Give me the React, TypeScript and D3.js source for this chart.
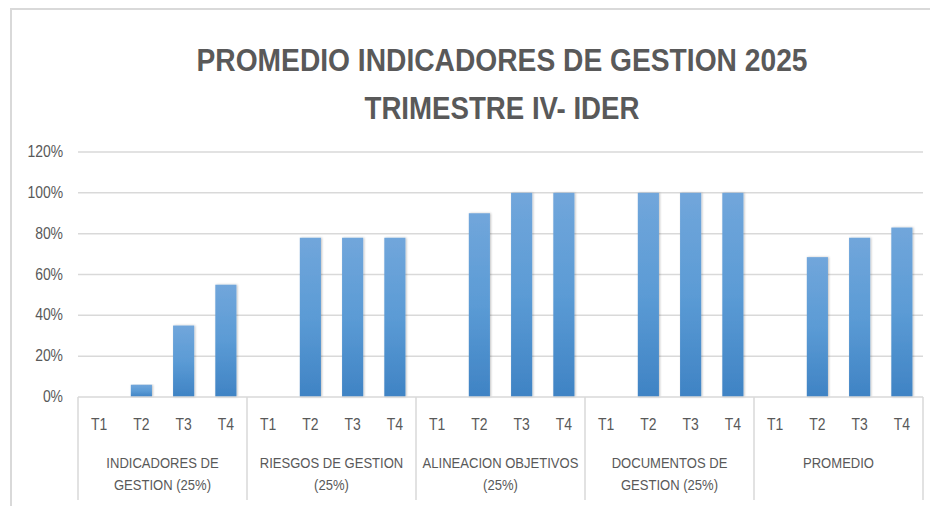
import React from 'react';
import * as d3 from 'd3';

const quarters = ['T1', 'T2', 'T3', 'T4'];
const groupLabels = [
  ['INDICADORES DE', 'GESTION (25%)'],
  ['RIESGOS DE GESTION', '(25%)'],
  ['ALINEACION OBJETIVOS', '(25%)'],
  ['DOCUMENTOS DE', 'GESTION (25%)'],
  ['PROMEDIO'],
];
const indicadores = [0, 0.06, 0.35, 0.55];
const riesgos = [0, 0.78, 0.78, 0.78];
const alineacion = [0, 0.9, 1, 1];
const documentos = [0, 1, 1, 1];
const promedio = [0, 0.685, 0.78, 0.83];
const yTicks = [0, 0.2, 0.4, 0.6, 0.8, 1, 1.2];

const seriesByGroup = [indicadores, riesgos, alineacion, documentos, promedio];

const W = 930;
const H = 506;
const left = 78;
const right = 923;
const top = 152;
const bottom = 397;
const grey = '#595959';
const lineCol = '#d9d9d9';
const font = "'Liberation Sans', Arial, sans-serif";
// the source font is condensed, so squeeze text horizontally
const squeeze = 0.87;

export default function App() {
  const x0 = d3.scaleBand<number>()
    .domain(d3.range(groupLabels.length))
    .range([left, right])
    .padding(0);
  const x1 = d3.scaleBand<string>()
    .domain(quarters)
    .range([0, x0.bandwidth()])
    .paddingInner(0.5)
    .paddingOuter(0.25);
  const y = d3.scaleLinear().domain([0, 1.2]).range([bottom, top]);
  const fmt = d3.format('.0%');

  return (
    <svg width={W} height={H} style={{ position: 'absolute', left: 0, top: 0, background: '#fff' }}>
      <defs>
        <linearGradient id="barGrad" x1="0" y1="0" x2="0" y2="1">
          <stop offset="0%" stopColor="#71a6db" />
          <stop offset="50%" stopColor="#5b9bd5" />
          <stop offset="100%" stopColor="#3f83c4" />
        </linearGradient>
        <filter id="shadow" x="-20%" y="-5%" width="140%" height="110%">
          <feDropShadow dx="1" dy="0" stdDeviation="1" floodColor="#000" floodOpacity="0.25" />
        </filter>
      </defs>
      <rect x={11} y={9} width={W} height={H} fill="#fff" stroke={lineCol} strokeWidth={2} />

      <text x={502} y={71} textAnchor="middle" fontFamily={font} fontWeight="bold" fontSize={31}
        fill={grey} textLength={611} lengthAdjust="spacingAndGlyphs">
        PROMEDIO INDICADORES DE GESTION 2025
      </text>
      <text x={502} y={119} textAnchor="middle" fontFamily={font} fontWeight="bold" fontSize={31}
        fill={grey} textLength={275} lengthAdjust="spacingAndGlyphs">
        TRIMESTRE IV- IDER
      </text>

      {yTicks.map((t) => (
        <g key={t}>
          {t > 0 && (
            <line x1={left} x2={right} y1={y(t)} y2={y(t)} stroke={lineCol} strokeWidth={1.5} />
          )}
          <g transform={`translate(63,${y(t) + 5}) scale(${squeeze},1)`}>
            <text textAnchor="end" fontFamily={font} fontSize={16} fill={grey}>
              {fmt(t)}
            </text>
          </g>
        </g>
      ))}

      {seriesByGroup.map((vals, gi) => (
        <g key={gi} transform={`translate(${x0(gi)},0)`}>
          {vals.map((v, qi) => (
            v > 0 ? (
              <rect key={qi} x={x1(quarters[qi])} y={y(v)} width={x1.bandwidth()}
                height={bottom - y(v)} fill="url(#barGrad)" filter="url(#shadow)" />
            ) : null
          ))}
        </g>
      ))}

      <line x1={left} x2={right} y1={bottom} y2={bottom} stroke={lineCol} strokeWidth={1.5} />
      {d3.range(groupLabels.length + 1).map((i) => {
        const xx = i < groupLabels.length ? (x0(i) as number) : right;
        return <line key={i} x1={xx} x2={xx} y1={bottom} y2={500} stroke={lineCol} strokeWidth={1.5} />;
      })}

      {groupLabels.map((lines, gi) => {
        const gx = x0(gi) as number;
        return (
          <g key={gi}>
            {quarters.map((q) => (
              <g key={q} transform={`translate(${gx + (x1(q) as number) + x1.bandwidth() / 2},430) scale(${squeeze},1)`}>
                <text textAnchor="middle" fontFamily={font} fontSize={16} fill={grey}>{q}</text>
              </g>
            ))}
            {lines.map((l, li) => (
              <g key={li} transform={`translate(${gx + x0.bandwidth() / 2},${468 + li * 22}) scale(${squeeze},1)`}>
                <text textAnchor="middle" fontFamily={font} fontSize={15} fill={grey}>{l}</text>
              </g>
            ))}
          </g>
        );
      })}
    </svg>
  );
}
